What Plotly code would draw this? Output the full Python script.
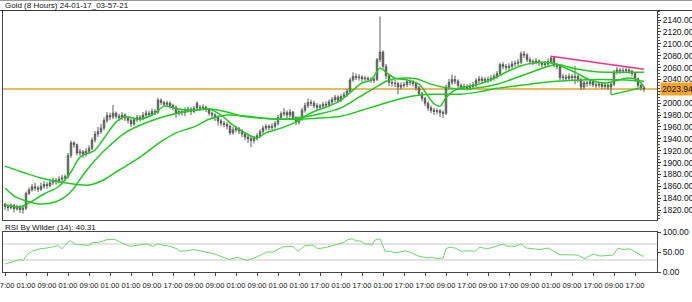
import plotly.graph_objects as go

W, H = 692, 302

# ---------------- data ----------------
opens = [1830, 1826, 1824, 1828, 1822, 1826, 1821, 1823, 1848, 1854, 1859, 1857, 1855, 1860, 1863, 1861, 1866, 1870, 1868, 1872,
         1874, 1876, 1912, 1933, 1930, 1916, 1918, 1914, 1919, 1924, 1938, 1948, 1952, 1958, 1971, 1979, 1977, 1983, 1978, 1976,
         1980, 1975, 1971, 1965, 1972, 1976, 1974, 1980, 1983, 1981, 1986, 1985, 2005, 2001, 1998, 2000, 1996, 1993, 1983, 1986,
         1984, 1988, 1990, 1986, 2000, 1992, 1992, 1993, 1990, 1983, 1980, 1976, 1970, 1966, 1964, 1961, 1950, 1955, 1957, 1953,
         1948, 1943, 1940, 1937, 1941, 1945, 1952, 1958, 1961, 1959, 1961, 1966, 1976, 1982, 1984, 1980, 1985, 1976, 1968, 1974,
         1988, 1996, 2001, 2000, 1996, 1993, 1995, 1998, 1997, 2002, 2006, 2010, 2005, 2011, 2014, 2020, 2039, 2045, 2043, 2044,
         2041, 2042, 2040, 2038, 2040, 2073, 2086, 2062, 2046, 2035, 2034, 2033, 2027, 2030, 2031, 2036, 2035, 2033, 2026, 2016,
         2008, 2000, 1992, 1988, 1986, 1987, 1984, 1983, 2027, 2035, 2040, 2037, 2030, 2027, 2028, 2026, 2028, 2031, 2038, 2041,
         2038, 2040, 2039, 2042, 2045, 2050, 2065, 2062, 2060, 2062, 2066, 2067, 2069, 2083, 2081, 2073, 2070, 2069, 2071, 2068,
         2065, 2066, 2070, 2076, 2064, 2062, 2043, 2044, 2042, 2045, 2043, 2045, 2040, 2027, 2034, 2033, 2036, 2031, 2030, 2032,
         2028, 2030, 2027, 2032, 2052, 2056, 2054, 2055, 2056, 2054, 2050, 2041, 2030, 2026]
closes = [1826, 1824, 1828, 1822, 1826, 1821, 1823, 1848, 1854, 1859, 1857, 1855, 1860, 1863, 1861, 1866, 1870, 1868, 1872, 1874,
          1876, 1912, 1933, 1930, 1916, 1918, 1914, 1919, 1924, 1938, 1948, 1952, 1958, 1971, 1979, 1977, 1983, 1978, 1976, 1980,
          1975, 1971, 1965, 1972, 1976, 1974, 1980, 1983, 1981, 1986, 1985, 2005, 2001, 1998, 2000, 1996, 1993, 1983, 1986, 1984,
          1988, 1990, 1986, 1991, 1992, 1992, 1993, 1990, 1983, 1980, 1976, 1970, 1966, 1964, 1961, 1950, 1955, 1957, 1953, 1948,
          1943, 1940, 1937, 1941, 1945, 1952, 1958, 1961, 1959, 1961, 1966, 1976, 1982, 1984, 1980, 1985, 1976, 1968, 1974, 1988,
          1996, 2001, 2000, 1996, 1993, 1995, 1998, 1997, 2002, 2006, 2010, 2005, 2011, 2014, 2020, 2039, 2045, 2043, 2044, 2041,
          2042, 2040, 2038, 2040, 2073, 2086, 2062, 2046, 2035, 2034, 2033, 2027, 2030, 2031, 2036, 2035, 2033, 2026, 2016, 2008,
          2000, 1992, 1988, 1986, 1987, 1984, 1983, 2027, 2035, 2040, 2037, 2030, 2027, 2028, 2026, 2028, 2031, 2038, 2041, 2038,
          2040, 2039, 2042, 2045, 2050, 2065, 2062, 2060, 2062, 2066, 2067, 2069, 2083, 2081, 2073, 2070, 2069, 2071, 2068, 2065,
          2066, 2070, 2076, 2064, 2062, 2043, 2044, 2042, 2045, 2043, 2045, 2040, 2027, 2034, 2033, 2036, 2031, 2030, 2032, 2028,
          2030, 2027, 2032, 2052, 2056, 2054, 2055, 2056, 2054, 2050, 2041, 2030, 2026, 2023.94]
highs = [1832, 1829, 1831, 1830, 1829, 1828, 1827, 1851, 1858, 1864, 1866, 1861, 1866, 1869, 1867, 1870, 1875, 1874, 1877, 1879,
         1880, 1916, 1937, 1936, 1932, 1923, 1921, 1924, 1929, 1942, 1953, 1960, 1965, 1976, 1985, 1984, 1997, 1986, 1982, 1985,
         1983, 1978, 1974, 1976, 1980, 1980, 1985, 1988, 1987, 1991, 1990, 2009, 2008, 2004, 2004, 2003, 1999, 1996, 1990, 1990,
         1993, 1994, 1993, 1995, 2003, 1997, 1998, 1996, 1992, 1986, 1983, 1979, 1973, 1970, 1968, 1964, 1960, 1962, 1960, 1956,
         1951, 1947, 1944, 1945, 1949, 1956, 1962, 1965, 1964, 1966, 1970, 1980, 1986, 1992, 1988, 1990, 1987, 1978, 1978, 1992,
         2001, 2008, 2006, 2004, 2000, 1999, 2002, 2003, 2006, 2010, 2014, 2013, 2015, 2019, 2024, 2043, 2052, 2050, 2049, 2047,
         2046, 2045, 2044, 2044, 2076, 2146, 2089, 2066, 2049, 2040, 2039, 2036, 2035, 2036, 2041, 2040, 2039, 2036, 2029, 2019,
         2011, 2003, 1996, 1992, 1991, 1990, 1988, 2031, 2041, 2048, 2046, 2040, 2033, 2033, 2032, 2033, 2036, 2042, 2046, 2045,
         2044, 2045, 2047, 2049, 2054, 2068, 2069, 2066, 2067, 2071, 2072, 2074, 2087, 2088, 2084, 2077, 2074, 2076, 2074, 2071,
         2071, 2075, 2080, 2078, 2068, 2065, 2049, 2048, 2050, 2049, 2063, 2048, 2043, 2038, 2038, 2040, 2039, 2035, 2036, 2035,
         2034, 2033, 2036, 2056, 2061, 2059, 2060, 2060, 2059, 2056, 2052, 2043, 2033, 2029]
lows = [1820, 1818, 1821, 1816, 1819, 1815, 1814, 1820, 1845, 1851, 1852, 1850, 1852, 1856, 1856, 1858, 1862, 1863, 1865, 1868,
        1869, 1873, 1908, 1925, 1912, 1911, 1908, 1910, 1915, 1921, 1934, 1943, 1948, 1954, 1967, 1971, 1973, 1974, 1970, 1972,
        1970, 1966, 1960, 1962, 1968, 1969, 1971, 1976, 1977, 1978, 1980, 1982, 1997, 1994, 1995, 1991, 1988, 1975, 1979, 1979,
        1978, 1984, 1980, 1983, 1989, 1988, 1989, 1985, 1979, 1975, 1970, 1962, 1961, 1959, 1956, 1946, 1947, 1951, 1948, 1943,
        1938, 1933, 1926, 1932, 1937, 1942, 1948, 1954, 1954, 1955, 1957, 1962, 1972, 1978, 1975, 1976, 1972, 1963, 1964, 1970,
        1984, 1992, 1995, 1991, 1988, 1989, 1991, 1993, 1993, 1998, 2002, 2001, 2002, 2008, 2011, 2017, 2036, 2039, 2038, 2036,
        2037, 2035, 2034, 2034, 2037, 2069, 2058, 2041, 2029, 2028, 2027, 2015, 2023, 2026, 2027, 2030, 2028, 2021, 2012, 2003,
        1995, 1987, 1983, 1980, 1981, 1977, 1975, 1980, 2023, 2031, 2032, 2025, 2022, 2023, 2021, 2022, 2024, 2027, 2034, 2033,
        2034, 2034, 2036, 2038, 2041, 2047, 2057, 2055, 2056, 2058, 2061, 2063, 2066, 2076, 2069, 2065, 2064, 2065, 2063, 2060,
        2061, 2062, 2066, 2060, 2057, 2039, 2038, 2037, 2038, 2038, 2032, 2035, 2022, 2023, 2028, 2029, 2027, 2025, 2026, 2024,
        2024, 2022, 2014, 2029, 2048, 2049, 2050, 2051, 2049, 2045, 2036, 2026, 2021, 2019]
bars = list(range(len(closes)))

fast_idx = [0, 5, 8, 13, 18, 22, 25, 30, 33, 37, 40, 45, 50, 53, 58, 63, 68, 72, 76, 80, 84, 87, 92, 97, 100, 104, 108, 112,
            116, 119, 122, 125, 127, 130, 134, 138, 141, 143, 145, 147, 150, 153, 158, 163, 167, 172, 177, 182, 185, 190, 195,
            200, 203, 207, 210, 212, 213]
fast_val = [1829, 1825, 1832, 1847, 1860, 1884, 1909, 1921, 1941, 1968, 1977, 1973, 1983, 1995, 1990, 1988, 1990, 1980, 1963,
            1950, 1941, 1950, 1958, 1968, 1978, 1988, 1995, 2005, 2022, 2034, 2039, 2059, 2052, 2042, 2039, 2032, 2012, 1999,
            1995, 2009, 2022, 2027, 2032, 2042, 2052, 2063, 2068, 2068, 2063, 2052, 2039, 2034, 2037, 2042, 2041, 2034, 2027]
mid_idx = [0, 3, 8, 12, 17, 20, 23, 26, 30, 35, 40, 47, 55, 63, 68, 74, 79, 85, 92, 98, 105, 112, 118, 123, 128, 132, 137,
           142, 147, 152, 158, 164, 170, 177, 184, 190, 197, 203, 208, 213]
mid_val = [1857, 1844, 1834, 1830, 1834, 1842, 1857, 1879, 1904, 1929, 1950, 1967, 1980, 1988, 1990, 1985, 1978, 1975, 1973,
           1975, 1982, 1992, 2010, 2025, 2039, 2042, 2041, 2032, 2026, 2024, 2026, 2032, 2042, 2055, 2065, 2058, 2053, 2052,
           2052, 2052]
slow_idx = [0, 12, 21, 28, 33, 38, 45, 52, 57, 63, 68, 74, 81, 85, 96, 105, 112, 119, 128, 136, 142, 147, 152, 158, 164, 172,
            180, 188, 198, 207, 213]
slow_val = [1894, 1874, 1865, 1862, 1871, 1887, 1909, 1935, 1950, 1960, 1973, 1980, 1978, 1975, 1973, 1975, 1978, 1988, 2002,
            2012, 2015, 2015, 2015, 2019, 2025, 2030, 2035, 2038, 2040, 2039, 2037]

rsi_idx = [0, 2.7, 5, 6, 7.3, 9.3, 11.7, 14, 16, 17.7, 19, 20.7, 21.7, 24, 26, 27.7, 29.3, 31.7, 34, 36.7, 38.3, 41.7, 45,
           47.3, 49.3, 50.7, 52.3, 55, 57.3, 58.3, 60.7, 62.7, 65, 67.3, 70, 72.7, 75, 77.3, 79.3, 80.7, 82.3, 84, 87.3, 89.3,
           92.7, 96, 97.7, 100, 102.7, 104.3, 107.3, 109.3, 111.7, 112.7, 114.3, 115.7, 117.3, 118.3, 120, 121.7, 122.3,
           123.3, 125, 126.7, 128.3, 130, 131.7, 133.3, 135, 136.7, 138.3, 140.7, 142.3, 144.3, 145.3, 146, 147, 148, 150,
           152.3, 155, 156.7, 158.3, 160.7, 162.7, 165, 166, 167, 168.3, 170, 172, 173.7, 176, 178.3, 181, 182.7, 185, 188.3,
           191, 193.3, 196, 198.3, 200.7, 202.7, 204.3, 206, 208.3, 210.7, 212.7, 213]
rsi_val = [20, 25, 31, 28, 43, 53, 58, 60, 63, 66, 58, 73, 78, 68, 68, 66, 73, 75, 81, 81, 75, 64, 68, 70, 64, 70, 68, 64,
           58, 52, 53, 56, 53, 50, 45, 37, 31, 37, 33, 29, 33, 38, 50, 50, 63, 64, 52, 66, 67, 58, 62, 66, 70, 73, 81, 83,
           77, 78, 70, 70, 67, 80, 83, 52, 52, 48, 50, 53, 50, 43, 39, 35, 37, 33, 35, 34, 58, 62, 60, 52, 53, 52, 62, 58,
           62, 68, 70, 65, 64, 64, 70, 60, 58, 56, 60, 52, 43, 43, 42, 33, 45, 40, 42, 42, 60, 56, 58, 48, 39, 40.31]

tick_idx = [0, 7, 14, 21, 28, 35, 42, 49, 56, 63, 70, 77, 84, 91, 98, 105, 112, 119, 126, 133, 140, 147, 154, 161, 168, 175,
            182, 189, 196, 203, 210]
tick_text = ["17:00", "01:00", "09:00", "01:00", "09:00", "01:00", "01:00", "09:00", "17:00", "09:00", "09:00", "01:00",
             "09:00", "01:00", "01:00", "17:00", "01:00", "17:00", "01:00", "17:00", "17:00", "09:00", "17:00", "09:00",
             "17:00", "09:00", "01:00", "09:00", "17:00", "09:00", "17:00"]
price_ticks = [1820, 1840, 1860, 1880, 1900, 1920, 1940, 1960, 1980, 2000, 2020, 2040, 2060, 2080, 2100, 2120, 2140]
last_price = 2023.94
res_idx = [182, 213]
res_val = [2079, 2057]
sup_idx = [202, 212]
sup_val = [2014, 2026]
rsi_levels = [30, 70]
rsi_ticks = [0, 50, 100]
title_text = "Gold (8 Hours) 24-01-17_03-57-21"
rsi_text = "RSI By Wilder (14): 40.31"

# ---------------- figure ----------------
FONT = "Liberation Sans Narrow, Arial Narrow, Liberation Sans, Arial, sans-serif"
MA_GREEN = "#1ecb1e"


def fx(p):
    return p / W


def fy(p):
    return 1 - p / H


fig = go.Figure()

for xs, ys in [(slow_idx, slow_val), (mid_idx, mid_val), (fast_idx, fast_val)]:
    fig.add_trace(go.Scatter(x=xs, y=ys, mode="lines", xaxis="x", yaxis="y",
                             line=dict(color=MA_GREEN, width=1.5, shape="spline", smoothing=0.8),
                             hoverinfo="skip", showlegend=False))

fig.add_trace(go.Candlestick(x=bars, open=opens, high=highs, low=lows, close=closes,
                             xaxis="x", yaxis="y", whiskerwidth=0,
                             increasing=dict(line=dict(color="#5c5c5c", width=1), fillcolor="#2fb52f"),
                             decreasing=dict(line=dict(color="#5c5c5c", width=1), fillcolor="#b0104e"),
                             showlegend=False, hoverinfo="skip"))

fig.add_trace(go.Scatter(x=res_idx, y=res_val, mode="lines", xaxis="x", yaxis="y",
                         line=dict(color="#ff2d86", width=1.6), showlegend=False, hoverinfo="skip"))
fig.add_trace(go.Scatter(x=sup_idx, y=sup_val, mode="lines", xaxis="x", yaxis="y",
                         line=dict(color=MA_GREEN, width=1.4), showlegend=False, hoverinfo="skip"))

fig.add_trace(go.Scatter(x=rsi_idx, y=rsi_val, mode="lines", xaxis="x2", yaxis="y2",
                         line=dict(color="#6ad86a", width=1), showlegend=False, hoverinfo="skip"))

x_range = [-0.667, 217.33]
main_dom = [fy(220), fy(11)]
rsi_dom = [fy(272), fy(232)]
x_dom = [fx(3), fx(657)]

shapes = [
    dict(type="line", xref="x domain", yref="y", x0=0, x1=1, y0=last_price, y1=last_price,
         line=dict(color="#e3a22e", width=1.6), layer="below"),
    dict(type="line", xref="paper", yref="paper", x0=0, x1=1, y0=fy(10.5), y1=fy(10.5),
         line=dict(color="#3a3a3a", width=1)),
    dict(type="line", xref="paper", yref="paper", x0=0, x1=1, y0=fy(0.5), y1=fy(0.5),
         line=dict(color="#9a9a9a", width=1)),
]
for lv in rsi_levels:
    shapes.append(dict(type="line", xref="x2 domain", yref="y2", x0=0, x1=1, y0=lv, y1=lv,
                       line=dict(color="#c9c9c9", width=1), layer="below"))

annotations = [
    dict(text=title_text, xref="paper", yref="paper", x=fx(3), y=fy(5.5), xanchor="left", yanchor="middle",
         showarrow=False, font=dict(family=FONT, size=8, color="#111")),
    dict(text=rsi_text, xref="paper", yref="paper", x=fx(3), y=fy(227), xanchor="left", yanchor="middle",
         showarrow=False, font=dict(family=FONT, size=8, color="#111")),
    dict(text=f"{last_price:.2f}", xref="paper", yref="y", x=fx(660), y=last_price, xanchor="left", yanchor="middle",
         showarrow=False, bgcolor="#f2a52a", borderpad=1, font=dict(family=FONT, size=8.5, color="#111")),
]

axis_font = dict(family=FONT, size=8.5, color="#111")
# the last-price box takes the place of the neighbouring tick label
price_text = ["" if abs(v - last_price) < 10 else f"{v:.2f}" for v in price_ticks]

fig.update_layout(
    width=W, height=H, margin=dict(l=0, r=0, t=0, b=0, autoexpand=False),
    paper_bgcolor="white", plot_bgcolor="white", showlegend=False,
    shapes=shapes, annotations=annotations,
    xaxis=dict(domain=x_dom, range=x_range, anchor="y", showticklabels=False, ticks="", automargin=False,
               showgrid=False, zeroline=False, showline=True, mirror=True, linecolor="#444", linewidth=1,
               rangeslider=dict(visible=False), fixedrange=True),
    yaxis=dict(domain=main_dom, range=[1803.2, 2155.2], anchor="x", side="right", automargin=False,
               tickmode="array", tickvals=price_ticks, ticktext=price_text, ticks="outside", ticklen=3,
               tickcolor="#333", tickfont=axis_font, showgrid=False, zeroline=False,
               showline=True, mirror=True, linecolor="#444", linewidth=1, fixedrange=True,
               minor=dict(tickmode="linear", tick0=1800, dtick=5, ticks="outside", ticklen=2, tickcolor="#555")),
    xaxis2=dict(domain=x_dom, range=x_range, anchor="y2", tickmode="array", tickvals=tick_idx,
                ticktext=tick_text, tickangle=0, ticks="outside", ticklen=3, tickcolor="#444", automargin=False,
                ticklabeloverflow="allow", ticklabelstandoff=3,
                tickfont=dict(family=FONT, size=7.5, color="#111"),
                showgrid=False, zeroline=False, showline=True, mirror=True, linecolor="#444", linewidth=1,
                fixedrange=True),
    yaxis2=dict(domain=rsi_dom, range=[0, 100], anchor="x2", side="right", tickmode="array", automargin=False,
                tickvals=rsi_ticks, ticktext=[f"{v:.2f}" for v in rsi_ticks], ticks="outside", ticklen=3,
                tickcolor="#444", tickfont=axis_font, showgrid=False, zeroline=False,
                showline=True, mirror=True, linecolor="#444", linewidth=1, fixedrange=True),
)

fig.write_html("out.html")
